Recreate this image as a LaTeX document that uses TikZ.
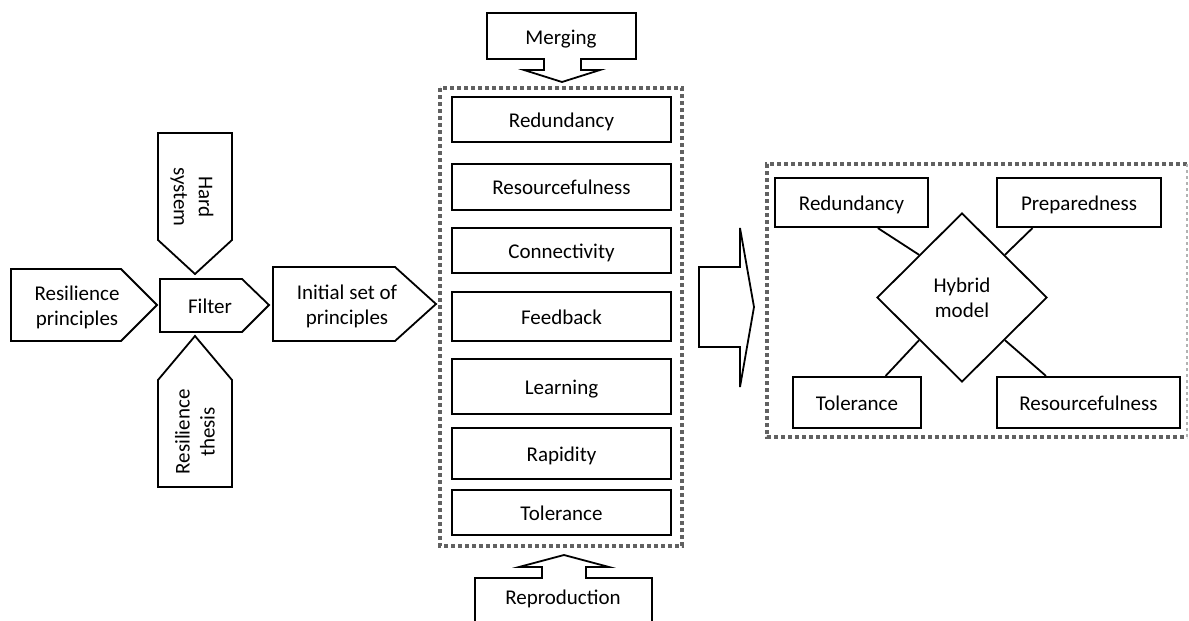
\documentclass[tikz,border=0pt]{standalone}
\usepackage{fontspec}
\setmainfont{Carlito}
\usetikzlibrary{shapes.geometric,calc}

\tikzset{
  outline/.style={draw=black, line width=1.8pt, line join=miter, fill=white},
  lbl/.style={align=center, inner sep=0pt, font=\fontsize{21}{25}\selectfont},
  oneline/.style={text height=15pt, text depth=0pt},
  listbox/.style={draw=black, line width=1.8pt, minimum width=219pt, inner sep=0pt,
                  oneline, font=\fontsize{21}{25}\selectfont},
  modelbox/.style={draw=black, line width=2.2pt, minimum height=50pt, inner sep=0pt,
                   oneline, font=\fontsize{21}{25}\selectfont},
  hub/.style={diamond, draw=black, line width=1.8pt, minimum width=170pt, minimum height=169pt,
              inner sep=0pt, align=center, font=\fontsize{21}{25}\selectfont},
  frame/.style={draw=black!62, line width=3.5pt, dash pattern=on 4pt off 3pt},
  link/.style={draw=black, line width=1.8pt}
}

\begin{document}
\begin{tikzpicture}[x=1pt, y=-1pt]
\useasboundingbox (0,0) rectangle (1189,621);

% ---- input pentagons around the filter ----
\draw[outline] (11,269) -- (121,269) -- (157,305) -- (121,341) -- (11,341) -- cycle;
\node[lbl] (respr) at (77,307) {Resilience\\principles};

\draw[outline] (160,279) -- (242,279) -- (269,305) -- (242,332) -- (160,332) -- cycle;
\node[lbl, oneline] (filter) at (210,306) {Filter};

\draw[outline] (273,267) -- (395,267) -- (436,304) -- (395,341) -- (273,341) -- cycle;
\node[lbl] (initset) at (347,306) {Initial set of\\principles};

\draw[outline] (158,133) -- (232,133) -- (232,240) -- (195,274) -- (158,240) -- cycle;
\node[lbl, rotate=-90] (hardsys) at (192,197) {Hard\\system};

\draw[outline] (195,336) -- (232,380) -- (232,487) -- (158,487) -- (158,380) -- cycle;
\node[lbl, rotate=90] (resthesis) at (195,432) {Resilience\\thesis};

% ---- merging / reproduction arrows ----
\draw[outline] (487,13) -- (636,13) -- (636,59) -- (581,59) -- (581,70) -- (600,70)
  -- (562,82) -- (524,70) -- (544,70) -- (544,59) -- (487,59) -- cycle;
\node[lbl, oneline] (merging) at (561,37) {Merging};

\draw[outline] (475,630) -- (475,578) -- (542,578) -- (542,567) -- (519,567) -- (564,555)
  -- (609,567) -- (586,567) -- (586,578) -- (652,578) -- (652,630);
\node[lbl, oneline] (reprod) at (563,597) {Reproduction};

% ---- list of principles ----
\draw[frame] (440,88) rectangle (682,546);
\node[listbox, minimum height=45pt] (p1) at (561.5,119.5) {Redundancy};
\node[listbox, minimum height=46pt] (p2) at (561.5,187)   {Resourcefulness};
\node[listbox, minimum height=45pt] (p3) at (561.5,250.5) {Connectivity};
\node[listbox, minimum height=49pt] (p4) at (561.5,316.5) {Feedback};
\node[listbox, minimum height=55pt] (p5) at (561.5,386.5) {Learning};
\node[listbox, minimum height=51pt] (p6) at (561.5,453.5) {Rapidity};
\node[listbox, minimum height=45pt] (p7) at (561.5,512.5) {Tolerance};

% ---- block arrow to the hybrid model ----
\draw[outline] (699,267) -- (740,267) -- (740,228) -- (754,307) -- (740,387) -- (740,347)
  -- (699,347) -- cycle;

% ---- hybrid model ----
\draw[frame] (1187,164) -- (767,164) -- (767,437) -- (1187,437);
\draw[draw=black!30, line width=1.2pt, dashed] (1187,164) -- (1187,437);

\node[hub] (hm) at (962,297.5) {Hybrid\\model};
\node[modelbox, minimum width=153pt, minimum height=49pt] (r1) at (851.5,202.5) {Redundancy};
\node[modelbox, minimum width=164pt, minimum height=49pt] (r2) at (1079,202.5) {Preparedness};
\node[modelbox, minimum width=128pt, minimum height=51pt] (r3) at (857,402.5) {Tolerance};
\node[modelbox, minimum width=183pt, minimum height=51pt] (r4) at (1088.5,402.5) {Resourcefulness};

\draw[link] ($(r1.south west)!0.67!(r1.south east)$) -- (hm.north west);
\draw[link] ($(r2.south west)!0.22!(r2.south east)$) -- (hm.north east);
\draw[link] ($(r3.north west)!0.72!(r3.north east)$) -- (hm.south west);
\draw[link] ($(r4.north west)!0.27!(r4.north east)$) -- (hm.south east);
\end{tikzpicture}
\end{document}
